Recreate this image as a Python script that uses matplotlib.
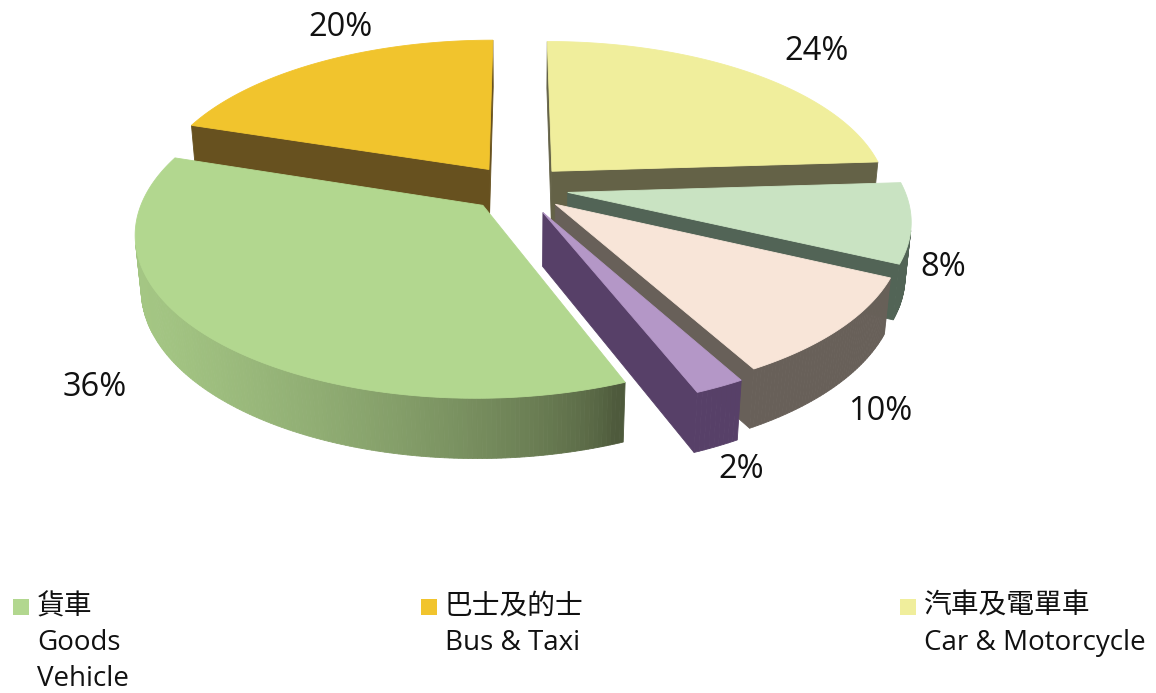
import numpy as np
import matplotlib
matplotlib.use("Agg")
import matplotlib.pyplot as plt
from matplotlib.patches import Polygon, Rectangle
from matplotlib.colors import to_rgb

# vehicle share by type (percent)
shares = [36, 20, 24, 8, 10, 2]
legend_zh = ["貨車", "巴士及的士", "汽車及電單車"]
legend_en = ["Goods\nVehicle", "Bus & Taxi", "Car & Motorcycle"]

top_colors = ["#B2D78F", "#F1C42D", "#F0EE9C", "#C9E3C2", "#F8E5D8", "#B497C7"]
side_colors = ["#4E5A3C", "#67511F", "#646247", "#526456", "#686059", "#574068"]
explode = [0.15, 0.15, 0.15, 0.15, 0.15, 0.17]

# where the percentage labels sit (pixels)
label_xy = [(95, 388), (340, 28), (817, 51), (943, 268), (880, 411), (741, 469)]

START = 158.4        # clockwise from 12 o'clock
TILT = np.radians(27.6)
SIN_A, COS_A = np.sin(TILT), np.cos(TILT)
CAM_D = 5.5
SCALE = 336
CX, CY = 518, 188
THICK = 0.18
LIGHT = np.radians(250)

FONT = ["Open Sans", "Noto Sans CJK TC", "DejaVu Sans"]


def project(x, y, z):
    v = y * SIN_A + z * COS_A
    w = y * COS_A - z * SIN_A
    s = CAM_D / (CAM_D + w)
    return CX + SCALE * x * s, CY - SCALE * v * s


camera = np.array([0.0, -CAM_D * COS_A, CAM_D * SIN_A])


def quad2d(pts):
    return [project(*p) for p in pts]


fig = plt.figure(figsize=(11.56, 6.93), dpi=100)
ax = fig.add_axes([0, 0, 1, 1])
ax.set_xlim(0, 1156)
ax.set_ylim(693, 0)
ax.axis("off")

total = float(sum(shares))
bounds = START + np.concatenate([[0], np.cumsum(shares)]) / total * 360

walls = []
tops = []
for i in range(len(shares)):
    t1, t2 = bounds[i], bounds[i + 1]
    mid = np.radians((t1 + t2) / 2)
    ox, oy = explode[i] * np.sin(mid), explode[i] * np.cos(mid)
    top = np.array(to_rgb(top_colors[i]))
    side = np.array(to_rgb(side_colors[i]))

    n = max(int(abs(t2 - t1) * 1.5), 8)
    th = np.radians(np.linspace(t1, t2, n))
    rx, ry = ox + np.sin(th), oy + np.cos(th)

    top_pts = [(ox, oy, 0)] + [(x, y, 0) for x, y in zip(rx, ry)]
    tops.append((quad2d(top_pts), top))

    # curved outer wall, shaded strip by strip
    for k in range(n - 1):
        ta = (th[k] + th[k + 1]) / 2
        normal = np.array([np.sin(ta), np.cos(ta), 0])
        pts = [(rx[k], ry[k], 0), (rx[k + 1], ry[k + 1], 0),
               (rx[k + 1], ry[k + 1], -THICK), (rx[k], ry[k], -THICK)]
        c = np.mean(pts, axis=0)
        if normal @ (camera - c) <= 0:
            continue
        lit = max(0.0, np.cos(ta - LIGHT)) ** 0.7
        col = side + (top * 0.92 - side) * lit
        walls.append((np.linalg.norm(camera - c), quad2d(pts), col))

    # flat cut faces
    for ang, sgn in ((np.radians(t1), -1), (np.radians(t2), 1)):
        normal = sgn * np.array([np.cos(ang), -np.sin(ang), 0])
        ex, ey = ox + np.sin(ang), oy + np.cos(ang)
        pts = [(ox, oy, 0), (ex, ey, 0), (ex, ey, -THICK), (ox, oy, -THICK)]
        c = np.mean(pts, axis=0)
        if normal @ (camera - c) <= 0:
            continue
        walls.append((np.linalg.norm(camera - c), quad2d(pts), side))

for _, pts, col in sorted(walls, key=lambda f: -f[0]):
    ax.add_patch(Polygon(pts, closed=True, facecolor=col, edgecolor=col, lw=0.6))
for pts, col in tops:
    ax.add_patch(Polygon(pts, closed=True, facecolor=col, edgecolor=col, lw=0.6))

for v, (x, y) in zip(shares, label_xy):
    ax.text(x, y, f"{v}%", fontsize=23.5, family=FONT, color="#111111",
            ha="center", va="center")

# legend row along the bottom
legend_x = [13, 421, 900]
for i, x in enumerate(legend_x):
    ax.add_patch(Rectangle((x, 599), 16, 16, facecolor=top_colors[i], edgecolor="none"))
    ax.text(x + 24, 607, legend_zh[i], fontsize=20, family=FONT, color="#111111",
            ha="left", va="center")
    for j, line in enumerate(legend_en[i].split("\n")):
        ax.text(x + 24, 643 + 36.5 * j, line, fontsize=20, family=FONT,
                color="#111111", ha="left", va="center")

fig.savefig("out.png", dpi=100)
